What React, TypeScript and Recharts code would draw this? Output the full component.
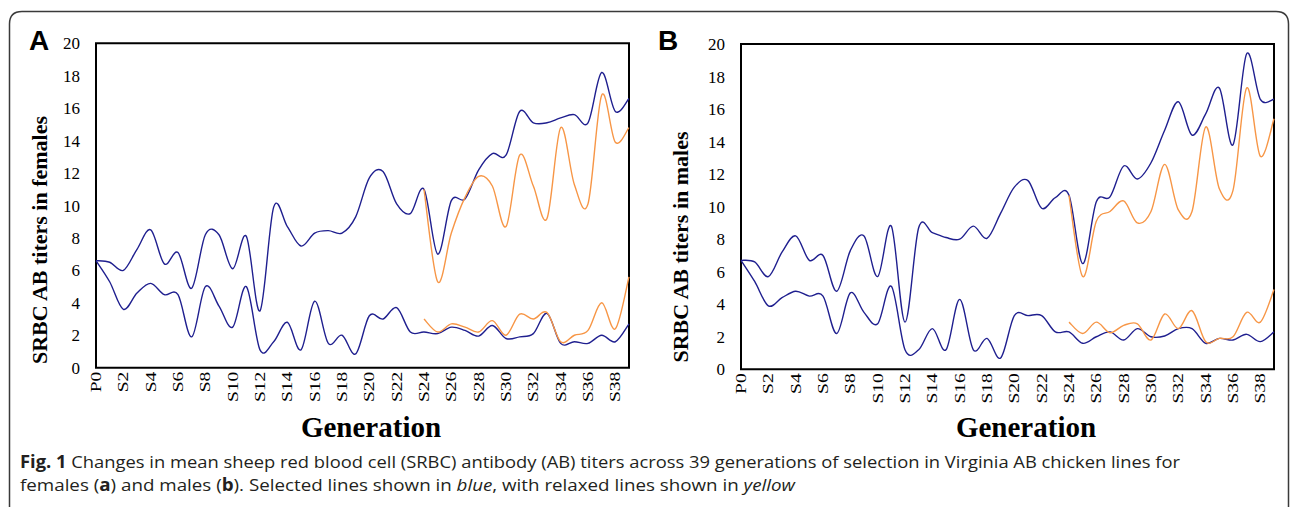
import React from "react";
import { LineChart, Line, XAxis, YAxis, ReferenceArea } from "recharts";

// P0 plus 39 selected generations
const generations = [
  "P0", "S1", "S2", "S3", "S4", "S5", "S6", "S7", "S8", "S9",
  "S10", "S11", "S12", "S13", "S14", "S15", "S16", "S17", "S18", "S19",
  "S20", "S21", "S22", "S23", "S24", "S25", "S26", "S27", "S28", "S29",
  "S30", "S31", "S32", "S33", "S34", "S35", "S36", "S37", "S38", "S39",
];

const yTicks = [0, 2, 4, 6, 8, 10, 12, 14, 16, 18, 20];

// relaxed lines start at S24
const RELAX_START = 24;

// panel A - females
const femalesHigh = [
  6.6, 6.5, 6.0, 7.3, 8.5, 6.4, 7.1, 4.9, 8.2, 8.2,
  6.1, 8.1, 3.5, 9.9, 8.7, 7.5, 8.3, 8.45, 8.3, 9.3,
  11.7, 12.1, 10.1, 9.5, 11.0, 7.0, 10.3, 10.4, 12.2, 13.2,
  13.1, 15.8, 15.1, 15.1, 15.4, 15.6, 15.1, 18.2, 15.8, 16.6,
];
const femalesLow = [
  6.6, 5.3, 3.6, 4.6, 5.2, 4.5, 4.5, 1.9, 5.0, 3.8,
  2.5, 5.0, 1.1, 1.6, 2.8, 1.1, 4.1, 1.5, 2.0, 0.85,
  3.2, 3.0, 3.7, 2.2, 2.2, 2.1, 2.5, 2.3, 1.95, 2.6,
  1.8, 1.9, 2.1, 3.35, 1.5, 1.6, 1.5, 2.0, 1.6, 2.7,
];
const femalesHighRelaxed = [
  11.0, 5.3, 8.3, 10.5, 11.8, 11.2, 8.7, 13.1, 11.2, 9.2,
  14.8, 11.3, 10.1, 16.8, 13.9, 14.8,
];
const femalesLowRelaxed = [
  3.0, 2.2, 2.7, 2.5, 2.2, 2.9, 2.0, 3.3, 3.0, 3.4,
  1.6, 2.0, 2.3, 4.0, 2.4, 5.6,
];

// panel B - males
const malesHigh = [
  6.7, 6.6, 5.7, 7.2, 8.2, 6.7, 7.0, 4.8, 7.3, 8.2,
  5.7, 8.8, 2.9, 8.7, 8.4, 8.1, 8.0, 8.8, 8.05, 9.6,
  11.2, 11.6, 9.9, 10.55, 10.7, 6.5, 10.3, 10.6, 12.5, 11.7,
  12.7, 14.7, 16.45, 14.4, 15.7, 17.3, 13.8, 19.4, 16.6, 16.6,
];
const malesLow = [
  6.7, 5.4, 3.9, 4.4, 4.8, 4.5, 4.5, 2.2, 4.7, 3.5,
  2.8, 5.1, 1.2, 1.2, 2.5, 1.2, 4.3, 1.2, 1.9, 0.7,
  3.3, 3.3, 3.3, 2.3, 2.3, 1.6, 2.0, 2.3, 1.8, 2.5,
  2.0, 2.05, 2.5, 2.5, 1.6, 1.9, 1.8, 2.15, 1.7, 2.3,
];
const malesHighRelaxed = [
  10.7, 5.7, 9.1, 9.7, 10.35, 9.0, 9.7, 12.6, 9.8, 9.7,
  14.9, 11.1, 11.0, 17.3, 13.1, 15.4,
];
const malesLowRelaxed = [
  2.9, 2.2, 2.9, 2.25, 2.7, 2.8, 1.8, 3.4, 2.5, 3.6,
  1.7, 1.9, 2.0, 3.5, 2.9, 4.9,
];

const BLUE = "#1F1F8F";
const ORANGE = "#F79646";
const SERIF = '"Liberation Serif", "Times New Roman", serif';
const SANS = '"Liberation Sans", Arial, sans-serif';
const CHART_H = 440;

// Excel-like smoothed line (cardinal bezier through every point)
function excelSmooth(context: any) {
  let pts: number[][] = [];
  return {
    areaStart() {},
    areaEnd() {},
    lineStart() {
      pts = [];
    },
    point(x: number, y: number) {
      pts.push([+x, +y]);
    },
    lineEnd() {
      const n = pts.length;
      if (!n) return;
      context.moveTo(pts[0][0], pts[0][1]);
      for (let i = 0; i < n - 1; i++) {
        const p0 = pts[i - 1] || pts[i];
        const p1 = pts[i];
        const p2 = pts[i + 1];
        const p3 = pts[i + 2] || pts[i + 1];
        context.bezierCurveTo(
          p1[0] + (p2[0] - p0[0]) / 6,
          p1[1] + (p2[1] - p0[1]) / 6,
          p2[0] - (p3[0] - p1[0]) / 6,
          p2[1] - (p3[1] - p1[1]) / 6,
          p2[0],
          p2[1]
        );
      }
    },
  };
}

function buildRows(high: number[], low: number[], relHigh: number[], relLow: number[]) {
  return generations.map((gen, i) => ({
    gen,
    high: high[i],
    low: low[i],
    relHigh: i >= RELAX_START ? relHigh[i - RELAX_START] : null,
    relLow: i >= RELAX_START ? relLow[i - RELAX_START] : null,
  }));
}

const GenTick = (props: any) => {
  const { x, y, payload } = props;
  if (payload.index % 2 !== 0) return <g />;
  return (
    <text
      transform={`translate(${x + 5},${y}) rotate(-90) scale(1.3,1)`}
      textAnchor="end"
      fontFamily={SERIF}
      fontSize={15}
      fill="#000"
    >
      {payload.value}
    </text>
  );
};

function Panel({ rows, left, top, plotBottom }: any) {
  return (
    <div style={{ position: "absolute", left, top: 0 }}>
      <LineChart
        width={645}
        height={CHART_H}
        data={rows}
        margin={{ top, right: 16, bottom: CHART_H - plotBottom - 30, left: 56 }}
      >
        <XAxis
          dataKey="gen"
          interval={0}
          tickLine={false}
          axisLine={false}
          tickSize={0}
          tickMargin={4}
          height={30}
          tick={<GenTick />}
        />
        <YAxis
          domain={[0, 20]}
          ticks={yTicks}
          interval={0}
          width={40}
          tickLine={false}
          axisLine={false}
          tickSize={0}
          tickMargin={16}
          tick={{ fontSize: 17, fill: "#000", fontFamily: SERIF }}
        />
        <ReferenceArea
          x1="P0"
          x2="S39"
          y1={0}
          y2={20}
          fill="none"
          stroke="#000"
          strokeWidth={2}
          ifOverflow="visible"
        />
        <Line dataKey="high" type={excelSmooth as any} stroke={BLUE} strokeWidth={1.4} dot={false} activeDot={false} isAnimationActive={false} />
        <Line dataKey="low" type={excelSmooth as any} stroke={BLUE} strokeWidth={1.4} dot={false} activeDot={false} isAnimationActive={false} />
        <Line dataKey="relHigh" type={excelSmooth as any} stroke={ORANGE} strokeWidth={1.4} dot={false} activeDot={false} isAnimationActive={false} />
        <Line dataKey="relLow" type={excelSmooth as any} stroke={ORANGE} strokeWidth={1.4} dot={false} activeDot={false} isAnimationActive={false} />
      </LineChart>
    </div>
  );
}

export default function App() {
  const femaleRows = buildRows(femalesHigh, femalesLow, femalesHighRelaxed, femalesLowRelaxed);
  const maleRows = buildRows(malesHigh, malesLow, malesHighRelaxed, malesLowRelaxed);

  return (
    <div
      style={{
        position: "absolute",
        left: 0,
        top: 0,
        width: 1290,
        height: 507,
        background: "#fff",
        overflow: "hidden",
      }}
    >
      <Panel rows={femaleRows} left={0} top={43.3} plotBottom={367.7} />
      <Panel rows={maleRows} left={645} top={44} plotBottom={369.3} />

      <svg
        width={1290}
        height={507}
        style={{ position: "absolute", left: 0, top: 0, pointerEvents: "none" }}
      >
        <path
          d="M 9.5 507 L 9.5 24 Q 9.5 11.5 22 11.5 L 1276 11.5 Q 1288.5 11.5 1288.5 24 L 1288.5 507"
          fill="none"
          stroke="#3a3a3a"
          strokeWidth={1.5}
        />
        <text x={29} y={50} fontFamily={SANS} fontWeight="bold" fontSize={28} fill="#000">A</text>
        <text x={658} y={50} fontFamily={SANS} fontWeight="bold" fontSize={28} fill="#000">B</text>

        <text transform="translate(47,240) rotate(-90)" textAnchor="middle" fontFamily={SERIF} fontWeight="bold" fontSize={22} fill="#000">
          SRBC AB titers in females
        </text>
        <text transform="translate(688,247) rotate(-90)" textAnchor="middle" fontFamily={SERIF} fontWeight="bold" fontSize={22} fill="#000">
          SRBC AB titers in males
        </text>

        <text x={371} y={437} textAnchor="middle" fontFamily={SERIF} fontWeight="bold" fontSize={29} fill="#000">Generation</text>
        <text x={1026} y={437} textAnchor="middle" fontFamily={SERIF} fontWeight="bold" fontSize={29} fill="#000">Generation</text>

        <text x={20} y={468} fontFamily='"Open Sans", sans-serif' fontSize={17} fill="#231f20" textLength={1160} lengthAdjust="spacingAndGlyphs">
          <tspan fontWeight="bold">Fig. 1</tspan> Changes in mean sheep red blood cell (SRBC) antibody (AB) titers across 39 generations of selection in Virginia AB chicken lines for
        </text>
        <text x={20} y={491} fontFamily='"Open Sans", sans-serif' fontSize={17} fill="#231f20" textLength={775} lengthAdjust="spacingAndGlyphs">
          females (<tspan fontWeight="bold">a</tspan>) and males (<tspan fontWeight="bold">b</tspan>). Selected lines shown in <tspan fontStyle="italic">blue</tspan>, with relaxed lines shown in <tspan fontStyle="italic">yellow</tspan>
        </text>
      </svg>
    </div>
  );
}
